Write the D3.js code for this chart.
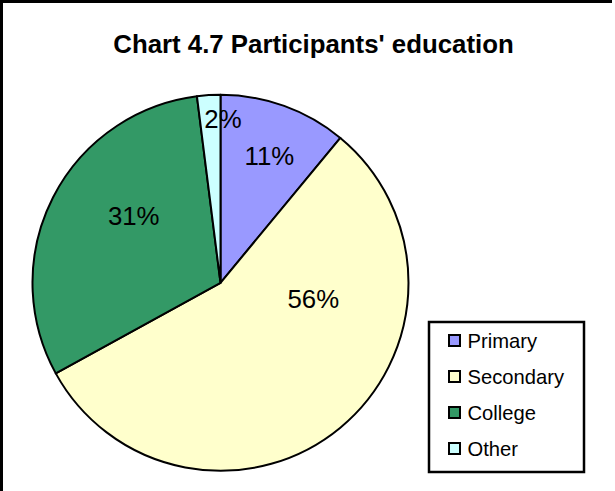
<!DOCTYPE html>
<html>
<head>
<meta charset="utf-8">
<script src="https://cdn.jsdelivr.net/npm/d3@7"></script>
<style>
  html, body { margin: 0; padding: 0; background: #fff; }
  svg { display: block; }
  text { font-family: "Liberation Sans", Arial, sans-serif; fill: #000; }
</style>
</head>
<body>
<svg id="chart" width="615" height="491"></svg>
<script>
// ---- data ----
const categories = ["Primary", "Secondary", "College", "Other"];
const values = [11, 56, 31, 2];
const colors = ["#9999FF", "#FFFFCC", "#339966", "#CCFFFF"];
const title = "Chart 4.7 Participants' education";

// ---- layout ----
const W = 615, H = 491;
const cx = 220.5, cy = 282.8, R = 188;
// label placement (polar: degrees clockwise from top, fraction of radius) – mimics Excel layout
const labelPolar = [[22.5, 0.68], [105.3, 0.512], [303.7, 0.555], [0.9, 0.823]];

const svg = d3.select("#chart");

// chart area border (top and left visible)
svg.append("line").attr("x1", 1.5).attr("y1", 0).attr("x2", 1.5).attr("y2", H)
  .attr("stroke", "#000").attr("stroke-width", 3);
svg.append("line").attr("x1", 0).attr("y1", 1.5).attr("x2", 612).attr("y2", 1.5)
  .attr("stroke", "#000").attr("stroke-width", 3);

// title
svg.append("text")
  .attr("x", 313.5).attr("y", 53.3)
  .attr("text-anchor", "middle")
  .style("font-size", "25.8px").style("font-weight", "bold")
  .text(title);

// pie
const pie = d3.pie().sort(null).value(d => d)
  .startAngle(0).endAngle(2 * Math.PI);
const arcs = pie(values);
const arc = d3.arc().innerRadius(0).outerRadius(R);

const g = svg.append("g").attr("transform", `translate(${cx},${cy})`);
g.selectAll("path.slice").data(arcs).enter().append("path")
  .attr("class", "slice")
  .attr("d", arc)
  .attr("fill", (d, i) => colors[i])
  .attr("stroke", "#000")
  .attr("stroke-width", 2)
  .attr("stroke-linejoin", "round");

const total = d3.sum(values);
g.selectAll("text.lbl").data(arcs).enter().append("text")
  .attr("class", "lbl")
  .attr("x", (d, i) => Math.sin(labelPolar[i][0] * Math.PI / 180) * labelPolar[i][1] * R)
  .attr("y", (d, i) => -Math.cos(labelPolar[i][0] * Math.PI / 180) * labelPolar[i][1] * R)
  .attr("text-anchor", "middle")
  .style("font-size", "25.8px")
  .text(d => Math.round(d.value / total * 100) + "%");

// legend
const lx = 429, ly = 322, lw = 155, lh = 150;
svg.append("rect").attr("x", lx).attr("y", ly).attr("width", lw).attr("height", lh)
  .attr("fill", "#fff").attr("stroke", "#000").attr("stroke-width", 2.5);

const rowY = d3.scalePoint().domain(categories).range([341, 449]);
const leg = svg.append("g");
const items = leg.selectAll("g").data(categories).enter().append("g")
  .attr("transform", d => `translate(0,${rowY(d)})`);
items.append("rect")
  .attr("x", 449).attr("y", -6).attr("width", 11).attr("height", 11)
  .attr("fill", (d, i) => colors[i])
  .attr("stroke", "#000").attr("stroke-width", 2);
items.append("text")
  .attr("x", 467.5).attr("y", 7)
  .style("font-size", "20.2px")
  .text(d => d);
</script>
</body>
</html>
